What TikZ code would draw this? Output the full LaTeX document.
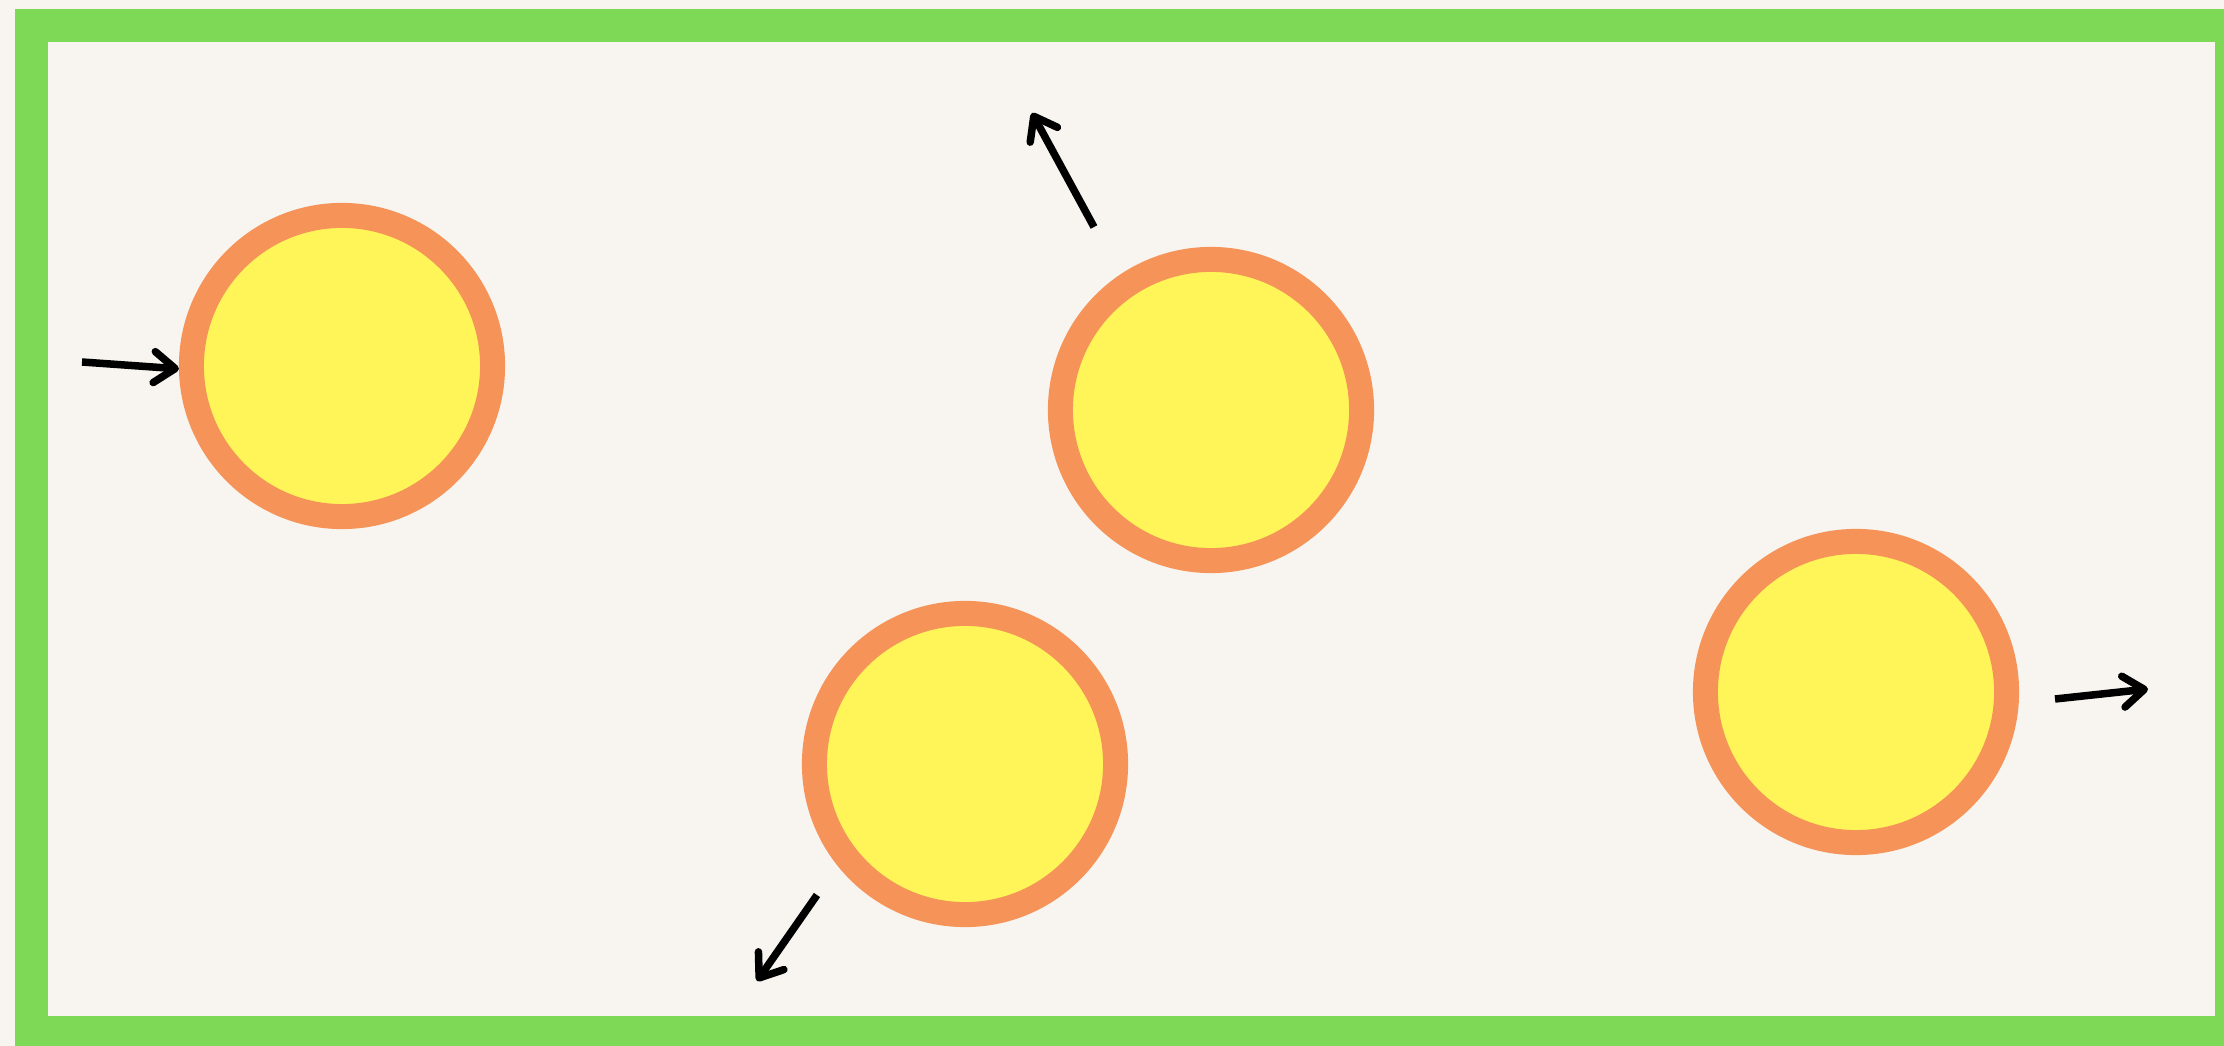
\documentclass[tikz,border=0pt]{standalone}
\usepackage{xcolor}
\usepackage{tikz}
\usetikzlibrary{arrows.meta}

\definecolor{bgcream}{HTML}{F8F5F0}
\definecolor{framegreen}{HTML}{7ED957}
\definecolor{ballrim}{HTML}{F59358}
\definecolor{ballfill}{HTML}{FFF558}

\begin{document}
\begin{tikzpicture}[
  x=0.01cm, y=-0.01cm,
  arr/.style={-{Straight Barb[round, length=0.21cm, width=0.31cm]}, line width=0.075cm},
  ball/.style={circle, draw=ballrim, fill=ballfill, line width=0.25cm, minimum size=3.01cm, inner sep=0pt}
]
\path[use as bounding box, fill=bgcream] (0,0) rectangle (2224,1046);
\clip (0,0) rectangle (2224,1046);
\draw[framegreen, line width=0.32cm] (31.5,25.5) rectangle (2231,1032.5);
% balls
\node[ball] (b1) at (342,366) {};
\node[ball] (b2) at (1211,410) {};
\node[ball] (b3) at (965,764) {};
\node[ball] (b4) at (1856,692) {};
% arrow ends
\coordinate (t1) at (82,362);
\coordinate (s2) at (1094,227);
\coordinate (h2) at (1032,113);
\coordinate (s3) at (817,895);
\coordinate (h3) at (757,981);
\coordinate (s4) at (2055,699);
\coordinate (h4) at (2148,689);
\draw[arr] (t1) -- (b1.181);
\draw[arr] (s2) -- (h2);
\draw[arr] (s3) -- (h3);
\draw[arr] (s4) -- (h4);
\end{tikzpicture}
\end{document}
